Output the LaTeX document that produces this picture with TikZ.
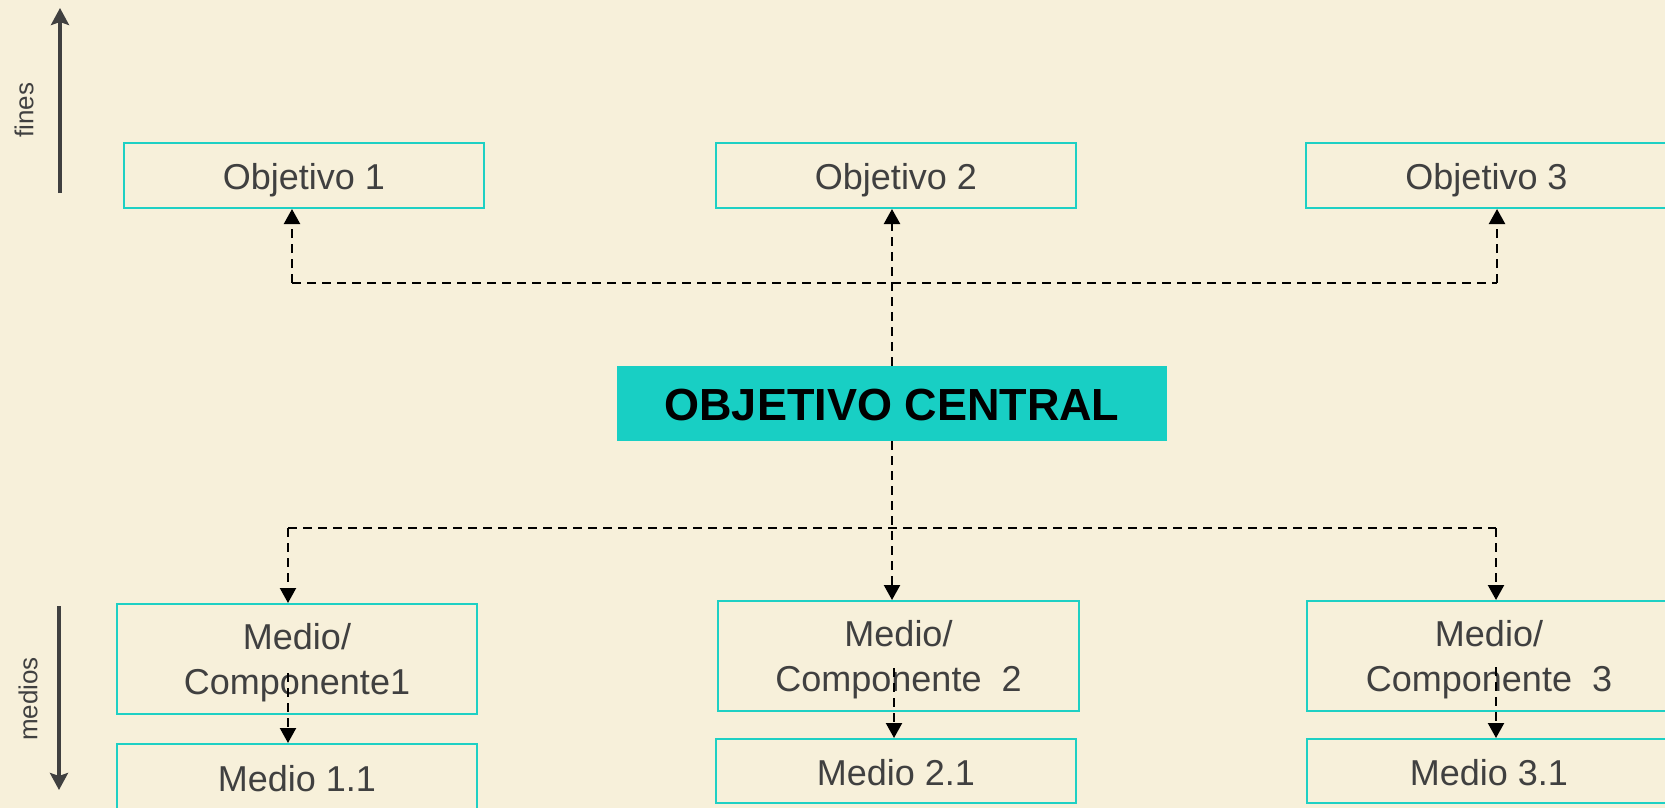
\documentclass[tikz,border=0pt]{standalone}
\usepackage{fontspec}
\setmainfont{Liberation Sans}
\usetikzlibrary{arrows.meta}
\definecolor{bg}{HTML}{F7F0DA}
\definecolor{tealline}{HTML}{1ED0C4}
\definecolor{tealfill}{HTML}{18CFC4}
\definecolor{txt}{HTML}{404040}
\begin{document}
\begin{tikzpicture}[x=1pt,y=-1pt,
  box/.style={draw=tealline, line width=2pt, minimum width=360pt, minimum height=65pt, inner sep=0pt,
    text=txt, font=\fontsize{36}{45}\selectfont, text height=28pt, text depth=0pt},
  tallbox/.style={draw=tealline, line width=2pt, minimum width=360pt, minimum height=110pt, inner sep=0pt},
  twoline/.style={text=txt, font=\fontsize{36}{45}\selectfont, align=center, inner sep=0pt},
  central/.style={fill=tealfill, minimum width=550pt, minimum height=75pt, inner sep=0pt,
    font=\bfseries\fontsize{45}{54}\selectfont, text=black, text height=33pt, text depth=0pt},
  conn/.style={draw=black, line width=2.2pt, dash pattern=on 9pt off 6pt, -{Triangle[length=15pt,width=16pt]}},
  dline/.style={draw=black, line width=2.2pt, dash pattern=on 9pt off 6pt},
  axisarrow/.style={draw=txt, line width=4.5pt, -{Stealth[length=17pt,width=18pt,inset=3pt]}},
  axlabel/.style={text=txt, font=\fontsize{26}{31}\selectfont, rotate=90, inner sep=0pt}
]
\fill[bg] (0,0) rectangle (1665,808);
\useasboundingbox (0,0) rectangle (1665,808);

% side axes
\coordinate (fb) at (60,193);
\coordinate (ft) at (60,8);
\draw[axisarrow] (fb) -- (ft);
\node[axlabel] (fines) at (24,110) {fines};
\coordinate (mt) at (59,606);
\coordinate (mb) at (59,790);
\draw[axisarrow] (mt) -- (mb);
\node[axlabel] (medios) at (28,699) {medios};

% objectives
\node[box] (o1) at (304,175.5) {Objetivo 1};
\node[box] (o2) at (896,175.5) {Objetivo 2};
\node[box, minimum width=361pt] (o3) at (1486.5,175.5) {Objetivo 3};

% central
\node[central] (c) at (892,403.5) {OBJETIVO CENTRAL};

% means / components
\node[tallbox] (mc1) at (297,659) {};
\node[tallbox, minimum width=361pt] (mc2) at (898.5,656) {};
\node[tallbox, minimum width=364pt] (mc3) at (1489,656) {};
\node[twoline] (mc1t) at ([yshift=-4pt]mc1.center) {Medio/\\Componente1};
\node[twoline] (mc2t) at ([yshift=-4pt]mc2.center) {Medio/\\Componente~~2};
\node[twoline] (mc3t) at ([yshift=-4pt]mc3.center) {Medio/\\Componente~~3};

\node[box, minimum height=66pt] (m11) at (297,777) {Medio 1.1};
\node[box, minimum height=64pt] (m21) at (896,771) {Medio 2.1};
\node[box, minimum height=64pt, minimum width=364pt] (m31) at (1489,771) {Medio 3.1};

% top connectors
\coordinate (tl) at (292,283);
\coordinate (tr) at (1497,283);
\draw[dline] (tl) -- (tr);
\draw[conn] (tl) -- (tl |- o1.south);
\draw[conn] (tr) -- (tr |- o3.south);
\draw[conn] (c.north) -- (c.north |- o2.south);

% bottom connectors
\coordinate (bl) at (288,528);
\coordinate (br) at (1496,528);
\draw[dline] (bl) -- (br);
\draw[conn] (bl) -- (bl |- mc1.north);
\draw[conn] (br) -- (br |- mc3.north);
\draw[conn] (c.south) -- (c.south |- mc2.north);

% component to sub-means
\coordinate (s1) at (288,673);
\coordinate (s2) at (894,668);
\coordinate (s3) at (1496,667);
\draw[conn] (s1) -- (s1 |- m11.north);
\draw[conn] (s2) -- (s2 |- m21.north);
\draw[conn] (s3) -- (s3 |- m31.north);
\end{tikzpicture}
\end{document}
